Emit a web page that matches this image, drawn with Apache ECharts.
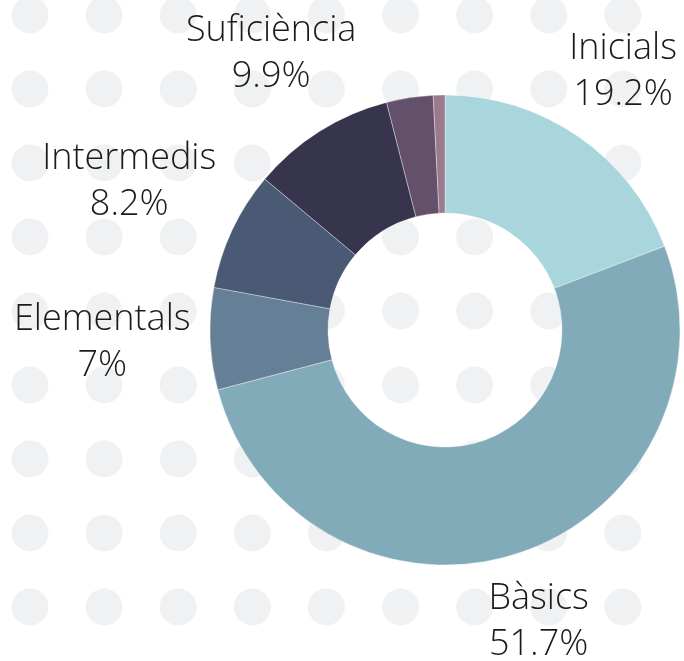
<!DOCTYPE html>
<html>
<head>
<meta charset="utf-8">
<style>
  html, body { margin: 0; padding: 0; background: #fff; }
  #chart { width: 684px; height: 661px; }
</style>
<script src="https://cdn.jsdelivr.net/npm/echarts@6/dist/echarts.min.js"></script>
</head>
<body>
<div id="chart"></div>
<script>
var levelNames = ["Inicials", "Bàsics", "Elementals", "Intermedis", "Suficiència", "Avançats", "Superiors"];
var levelShares = [19.2, 51.7, 7, 8.2, 9.9, 3.2, 0.8];
var levelLabeled = [true, true, true, true, true, false, false];

var sliceColors = ["#a8d6dc", "#82abb9", "#657f97", "#4a5a74", "#37354e", "#63516b", "#9b7a8d"];
// distance from centre to the middle of each label block
var labelDist = [314, 306, 343, 349, 326, 0, 0];

var cx = 445, cy = 330;

// mid angle of each slice (clockwise from 12 o'clock)
var total = 0;
for (var i = 0; i < levelShares.length; i++) total += levelShares[i];
var midAngle = [];
var acc = 0;
for (var i = 0; i < levelShares.length; i++) {
    midAngle.push((acc + levelShares[i] / 2) / total * 2 * Math.PI);
    acc += levelShares[i];
}

// dotted background
var dots = [];
for (var r = 0; r < 9; r++) {
    for (var c = 0; c < 9; c++) {
        dots.push({
            type: "circle",
            silent: true,
            z: -10,
            shape: { cx: 30 + c * 74.1, cy: 15 + r * 74, r: 18.5 },
            style: { fill: "#f0f1f3" }
        });
    }
}

var data = [];
for (var i = 0; i < levelNames.length; i++) {
    data.push({
        name: levelNames[i],
        value: levelShares[i],
        itemStyle: { color: sliceColors[i] },
        label: { show: levelLabeled[i] }
    });
}

var chart = echarts.init(document.getElementById("chart"));
chart.setOption({
    backgroundColor: "#ffffff",
    animation: false,
    graphic: dots,
    series: [{
        type: "pie",
        center: [cx, cy],
        radius: [117, 235],
        startAngle: 90,
        clockwise: true,
        avoidLabelOverlap: false,
        data: data,
        itemStyle: { borderColor: "rgba(255,255,255,0.6)", borderWidth: 0.6 },
        label: {
            position: "outside",
            formatter: function (p) { return p.name + "\n" + p.value + "%"; },
            fontFamily: "Open Sans",
            fontWeight: 300,
            fontSize: 36,
            lineHeight: 46,
            color: "#1b1b1b",
            align: "center"
        },
        labelLine: { show: false },
        labelLayout: function (p) {
            var i = p.dataIndex;
            var a = midAngle[i];
            return {
                x: cx + labelDist[i] * Math.sin(a),
                y: cy - labelDist[i] * Math.cos(a),
                align: "center",
                verticalAlign: "middle"
            };
        },
        emphasis: { disabled: true }
    }]
});
</script>
</body>
</html>
